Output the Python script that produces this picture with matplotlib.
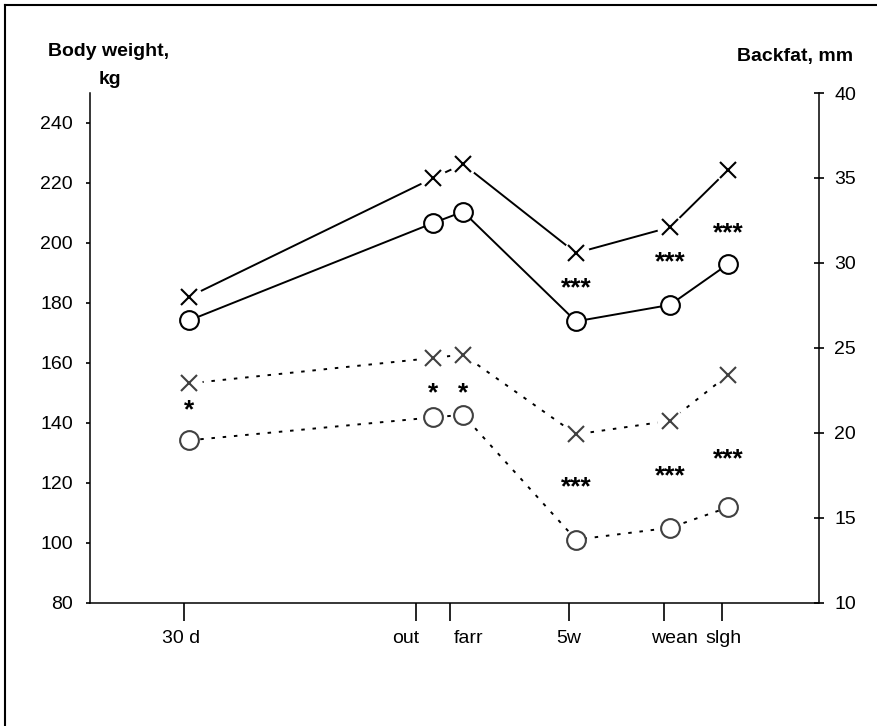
import matplotlib

matplotlib.use("Agg")
import matplotlib.pyplot as plt
from matplotlib.lines import Line2D
from matplotlib.ticker import FixedLocator, NullFormatter

plt.rcParams["font.family"] = ["Liberation Sans", "DejaVu Sans"]

# time axis (arbitrary units along the axis)
stage_x = [99.5, 343.5, 373.5, 486.5, 580.5, 638.5]
tick_x = [94, 327, 360.5, 479.5, 574.5, 633]
label_x = [91.5, 316.5, 379.5, 479.5, 584.5, 633.5]
stage_labels = ["30 d", "out", "farr", "5w", "wean", "slgh"]

# body weight, kg (left axis)
weight_x_group = [182.0, 221.6, 226.3, 196.6, 205.2, 224.3]
weight_o_group = [174.1, 206.6, 210.4, 173.8, 179.3, 192.9]

# backfat, mm (right axis)
backfat_x_group = [22.9, 24.4, 24.6, 19.9, 20.7, 23.4]
backfat_o_group = [19.55, 20.9, 21.05, 13.7, 14.4, 15.6]

# significance marks between groups
weight_sig = ["", "", "", "***", "***", "***"]
weight_sig_y = [0, 0, 0, 186.2, 194.9, 204.6]
backfat_sig = ["*", "*", "*", "***", "***", "***"]
backfat_sig_y = [21.55, 22.53, 22.53, 17.04, 17.66, 18.65]

W, H = 877, 726
fig = plt.figure(figsize=(W / 100, H / 100), dpi=100)
ax = fig.add_axes([89.5 / W, 1 - 602.5 / H, 729 / W, 509.5 / H])
ax2 = ax.twinx()

dash = (0, (1.8, 4))
grey = "#404040"

# body weight, solid lines
for values, marker in [(weight_x_group, "x"), (weight_o_group, "o")]:
    ax.plot(stage_x, values, color="black", lw=1.4, zorder=2)
    if marker == "x":
        ax.plot(stage_x, values, ls="none", marker="o", ms=19, mfc="white", mec="none", zorder=3)
        ax.plot(stage_x, values, ls="none", marker="x", ms=12, mew=1.5, color="black", zorder=4)
    else:
        ax.plot(stage_x, values, ls="none", marker="o", ms=13.5, mfc="white", mec="black", mew=1.5, zorder=4)

# backfat, dashed lines
for values, marker in [(backfat_x_group, "x"), (backfat_o_group, "o")]:
    ax2.plot(stage_x, values, color="black", lw=1.4, ls=dash, zorder=2)
    if marker == "x":
        ax2.plot(stage_x, values, ls="none", marker="o", ms=19, mfc="white", mec="none", zorder=3)
        ax2.plot(stage_x, values, ls="none", marker="x", ms=12, mew=1.5, color=grey, zorder=4)
    else:
        ax2.plot(stage_x, values, ls="none", marker="o", ms=13.5, mfc="white", mec=grey, mew=1.5, zorder=4)

for x, s, y in zip(stage_x, weight_sig, weight_sig_y):
    if s:
        ax.annotate(s, (x, y), xytext=(0, -8), textcoords="offset points",
                    ha="center", va="baseline", fontsize=19, fontweight="bold", zorder=5)
for x, s, y in zip(stage_x, backfat_sig, backfat_sig_y):
    if s:
        ax2.annotate(s, (x, y), xytext=(0, -8), textcoords="offset points",
                     ha="center", va="baseline", fontsize=19, fontweight="bold", zorder=5)

ax.set_xlim(0, 729)
ax.set_ylim(80, 250)
ax2.set_ylim(10, 40)

ax.set_yticks(range(80, 241, 20))
ax2.set_yticks(range(10, 41, 5))

ax.xaxis.set_major_locator(FixedLocator(tick_x))
ax.xaxis.set_major_formatter(NullFormatter())
for x, label in zip(label_x, stage_labels):
    ax.text(x, -0.07, label, transform=ax.get_xaxis_transform(),
            ha="center", va="center", fontsize=14)

ax.tick_params(axis="x", which="major", direction="out", length=13, width=1.2)
ax.tick_params(axis="y", direction="out", length=3, width=1.2, pad=9, labelsize=14)
ax2.tick_params(axis="y", direction="inout", length=7, width=1.2, pad=8, labelsize=14)

for name in ["top", "right"]:
    ax.spines[name].set_visible(False)
for name in ["top", "left", "bottom"]:
    ax2.spines[name].set_visible(False)
for sp in [ax.spines["left"], ax.spines["bottom"], ax2.spines["right"]]:
    sp.set_linewidth(1.1)

fig.text(109 / W, 1 - 52 / H, "Body weight,", ha="center", va="center", fontsize=14, fontweight="bold")
fig.text(110 / W, 1 - 80 / H, "kg", ha="center", va="center", fontsize=14, fontweight="bold")
fig.text(853 / W, 1 - 57 / H, "Backfat, mm", ha="right", va="center", fontsize=14, fontweight="bold")

# frame around the figure
fig.add_artist(Line2D([5 / W, 5 / W], [0, 1 - 5 / H], color="black", lw=1.5, transform=fig.transFigure))
fig.add_artist(Line2D([5 / W, 1], [1 - 5 / H, 1 - 5 / H], color="black", lw=1.5, transform=fig.transFigure))

fig.savefig("out.png", dpi=100)
